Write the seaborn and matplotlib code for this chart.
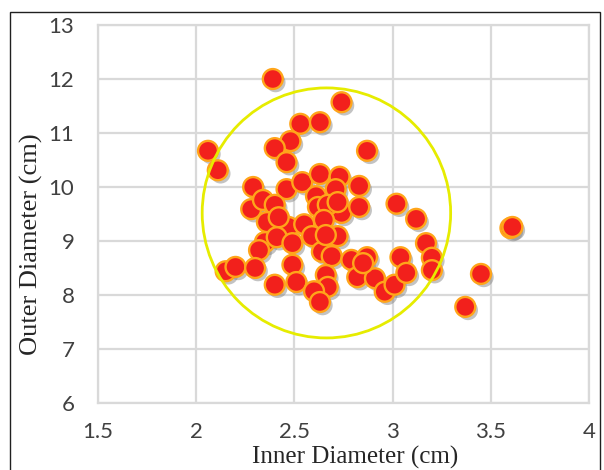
import pandas as pd
import numpy as np
import matplotlib
matplotlib.use("Agg")
import matplotlib.pyplot as plt
import matplotlib.patheffects as pe
from matplotlib.patches import Ellipse, Rectangle
import seaborn as sns

# inner / outer diameters
inner_cm = [2.39, 2.74, 2.53, 2.63, 2.06, 2.11, 2.48, 2.40, 2.46, 2.87,
            2.29, 2.46, 2.54, 2.63, 2.73, 2.83, 2.71, 2.61, 2.28, 2.34,
            2.40, 2.36, 2.74, 2.83, 3.02, 2.62, 2.67, 2.72, 2.65, 2.47,
            2.55, 2.59, 2.72, 2.42, 2.35, 2.32, 2.41, 2.49, 2.64, 2.69,
            2.79, 2.87, 2.15, 2.20, 2.30, 2.49, 2.40, 2.51, 2.66, 2.67,
            2.60, 2.63, 2.82, 2.91, 2.85, 2.96, 3.01, 3.12, 3.17, 3.04,
            3.20, 3.20, 3.07, 3.60, 3.61, 3.45, 3.37, 2.66]
outer_cm = [12.00, 11.57, 11.17, 11.20, 10.67, 10.31, 10.85, 10.72, 10.46, 10.67,
            10.00, 9.96, 10.09, 10.24, 10.19, 10.02, 9.96, 9.83, 9.59, 9.76,
            9.67, 9.35, 9.52, 9.63, 9.69, 9.63, 9.67, 9.72, 9.39, 9.26,
            9.31, 9.09, 9.09, 9.44, 8.98, 8.83, 9.07, 8.96, 8.80, 8.72,
            8.65, 8.70, 8.44, 8.52, 8.50, 8.56, 8.19, 8.24, 8.37, 8.15,
            8.07, 7.87, 8.33, 8.31, 8.59, 8.06, 8.19, 9.41, 8.96, 8.70,
            8.69, 8.46, 8.41, 9.24, 9.26, 8.39, 7.78, 9.11]

x_ticks = [1.5, 2, 2.5, 3, 3.5, 4]
y_ticks = [6, 7, 8, 9, 10, 11, 12, 13]

# yellow ring around the cluster
ring_center = (2.663, 9.52)
ring_w = 1.265
ring_h = 4.63

df = pd.DataFrame({"Inner": inner_cm, "Outer": outer_cm})

sns.set_style("white")
plt.rcParams["font.family"] = ["Lato", "DejaVu Sans"]

fig = plt.figure(figsize=(6.04, 4.70), dpi=100)
ax = fig.add_axes([98 / 604, 67 / 470, 491 / 604, 378 / 470])

sns.scatterplot(data=df, x="Inner", y="Outer", ax=ax, s=205, color="#F2201C",
                edgecolor="#FFA51A", linewidth=1.7, zorder=3, legend=False)
ax.collections[0].set_path_effects([
    pe.SimplePatchShadow(offset=(2.0, -2.4), shadow_rgbFace="#7a7a7a", alpha=0.45),
    pe.Normal()])

ax.add_patch(Ellipse(ring_center, ring_w, ring_h, fill=False, ec="#E6EC00",
                     lw=2.0, zorder=4))

ax.set_xlim(x_ticks[0], x_ticks[-1])
ax.set_ylim(y_ticks[0], y_ticks[-1])
ax.set_xticks(x_ticks)
ax.set_xticklabels(["%g" % t for t in x_ticks])
ax.set_yticks(y_ticks)
ax.grid(True, color="#D9D9D9", linewidth=1.6)
ax.set_axisbelow(True)
for s in ax.spines.values():
    s.set_color("#D9D9D9")
    s.set_linewidth(1.6)

ax.tick_params(axis="both", length=0, labelsize=16, labelcolor="#404040")
ax.tick_params(axis="x", pad=14)
ax.tick_params(axis="y", pad=17)

ax.set_xlabel("Inner Diameter (cm)", family="Liberation Serif", fontsize=18,
              color="#262626")
ax.set_ylabel("Outer Diameter (cm)", family="Liberation Serif", fontsize=19,
              color="#262626")
ax.xaxis.set_label_coords(0.523, -0.113)
ax.yaxis.set_label_coords(-0.113, 0.42)

fig.patches.append(Rectangle((10 / 604, -0.1), 590 / 604, 1.1 - 12 / 470,
                             transform=fig.transFigure, fill=False,
                             ec="#202020", lw=1.0, zorder=0))

plt.savefig("out.png", dpi=100)
plt.close()
